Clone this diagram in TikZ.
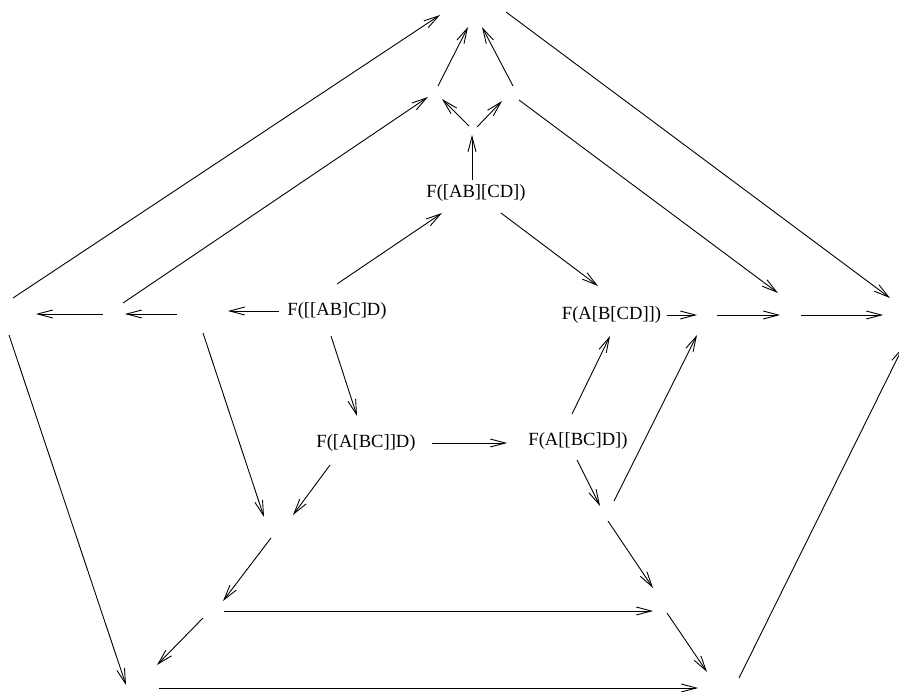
\documentclass[tikz,border=0pt]{standalone}
\usepackage{fontspec}
\setmainfont{Liberation Serif}
\usetikzlibrary{arrows.meta,calc}
\begin{document}
\begin{tikzpicture}[x=1pt,y=-1pt,
  arr/.style={-{Straight Barb[length=15pt,width=8pt]}, line width=0.9pt},
  lbl/.style={inner sep=0pt, font=\fontsize{18.6}{22}\selectfont}]
\useasboundingbox (0,0) rectangle (899,692);
\clip (0,0) rectangle (899,692);
% empty objects
\coordinate (T)  at (475,10);
\coordinate (A1) at (440,92);
\coordinate (A2) at (510,93);
\coordinate (B)  at (473,122);
\coordinate (L1) at (18,314);
\coordinate (L2) at (114,314);
\coordinate (L3) at (203,314);
\coordinate (R3) at (707,315);
\coordinate (R2) at (791,315);
\coordinate (R1) at (900,315);
\coordinate (D1) at (275,528);
\coordinate (D2) at (213,611);
\coordinate (D3) at (140,688);
\coordinate (C1) at (605,512);
\coordinate (C2) at (660,611);
\coordinate (C3) at (718,688);
% labelled objects
\node[lbl] (tAB) at (476,193) {F([AB][CD])};
\node[lbl] (tL)  at (337,311) {F([[AB]C]D)};
\node[lbl] (tR)  at (611.5,315) {F(A[B[CD]])};
\node[lbl] (tBL) at (366,443) {F([A[BC]]D)};
\node[lbl] (tBR) at (578,441) {F(A[[BC]D])};
% connectors
\draw[arr] ($(L1)+(-5,-16)$) -- ($(T)+(-35,5)$);
\draw[arr] ($(L2)+(9,-11)$) -- ($(A1)+(-12,5)$);
\draw[arr] ($(L2)+(-11,0)$) -- ($(L1)+(18,0)$);
\draw[arr] ($(L3)+(-26,0)$) -- ($(L2)+(11,0)$);
\draw[arr] ($(tL)+(-58,0)$) -- ($(L3)+(25,-3)$);
\draw[arr] ($(L1)+(-9,21)$) -- ($(D3)+(-14,-3)$);
\draw[arr] ($(L3)+(0,19)$) -- ($(D1)+(-11,-11)$);
\draw[arr] ($(A1)+(-2,-6)$) -- ($(T)+(-7,17)$);
\draw[arr] ($(A2)+(3,-7)$) -- ($(T)+(7,17)$);
\draw[arr] ($(B)+(-4,4)$) -- ($(A1)+(2,7)$);
\draw[arr] ($(B)+(4,5)$) -- ($(A2)+(-8,8)$);
\draw[arr] ($(tAB)+(-4,-13)$) -- ($(B)+(-1,13)$);
\draw[arr] ($(tL)+(0,-27)$) -- ($(tAB)+(-34,20)$);
\draw[arr] ($(tAB)+(25,20)$) -- ($(tR)+(-13.5,-29)$);
\draw[arr] ($(tL)+(-6,25)$) -- ($(tBL)+(-9,-27)$);
\draw[arr] ($(tBL)+(66,0)$) -- ($(tBR)+(-71,2)$);
\draw[arr] ($(tBR)+(-6,-27)$) -- ($(tR)+(-1.5,21)$);
\draw[arr] ($(tBL)+(-36,22)$) -- ($(D1)+(18,-13)$);
\draw[arr] ($(tBR)+(-1,19)$) -- ($(C1)+(-5,-6)$);
\draw[arr] ($(C1)+(3,9)$) -- ($(C2)+(-7,-23)$);
\draw[arr] ($(C1)+(9,-11)$) -- ($(R3)+(-10,20)$);
\draw[arr] ($(D1)+(-4,10)$) -- ($(D2)+(10,-10)$);
\draw[arr] ($(D2)+(-10,7)$) -- ($(D3)+(17,-23)$);
\draw[arr] ($(D2)+(11,0)$) -- ($(C2)+(-7,0)$);
\draw[arr] ($(C2)+(7,2)$) -- ($(C3)+(-11,-16)$);
\draw[arr] ($(D3)+(19,0)$) -- ($(C3)+(-20,0)$);
\draw[arr] ($(C3)+(21,-10)$) -- ($(R1)+(3,32)$);
\draw[arr] ($(T)+(31,2)$) -- ($(R1)+(-10,-17)$);
\draw[arr] ($(A2)+(9,7)$) -- ($(R2)+(-13,-22)$);
\draw[arr] ($(tR)+(55.5,0)$) -- ($(R3)+(-10,0)$);
\draw[arr] ($(R3)+(10,0)$) -- ($(R2)+(-11,0)$);
\draw[arr] ($(R2)+(10,0)$) -- ($(R1)+(-17,0)$);
\end{tikzpicture}
\end{document}
